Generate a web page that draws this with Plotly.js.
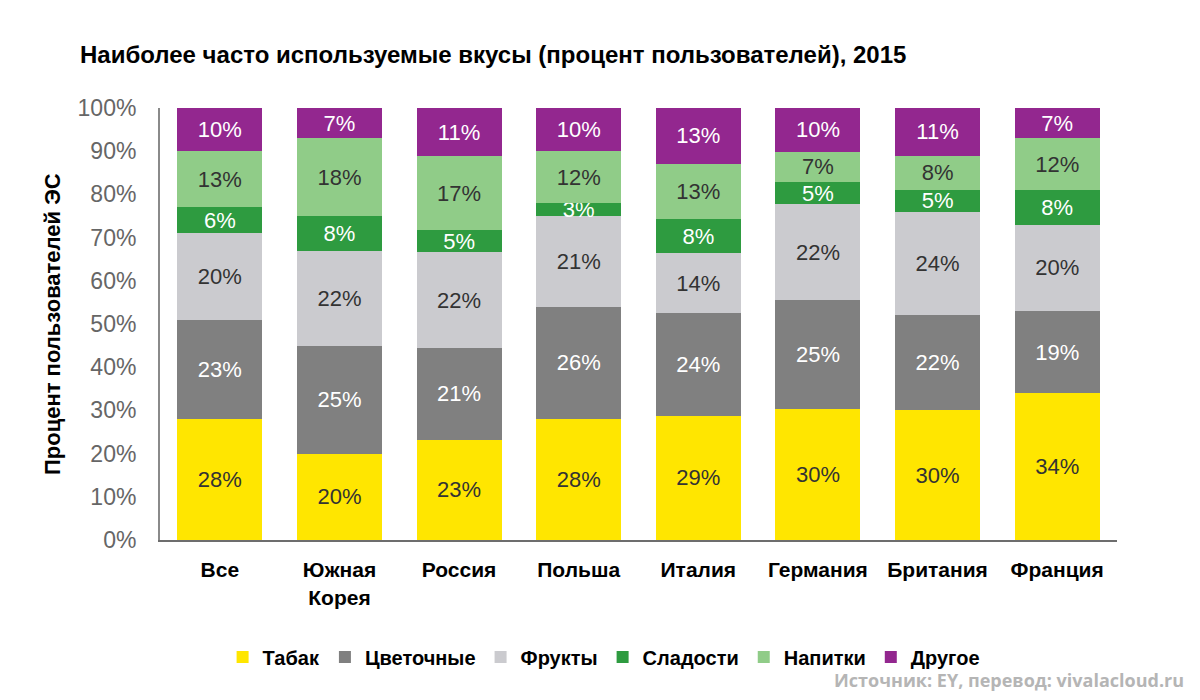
<!DOCTYPE html>
<html><head><meta charset="utf-8">
<script src="https://cdn.plot.ly/plotly-3.0.1.min.js"></script>
<style>html,body{margin:0;padding:0;background:#fff;}#chart{width:1200px;height:700px;}</style>
</head><body><div id="chart"></div>
<script>
const categories = ["Все", "Южная<br>Корея", "Россия", "Польша", "Италия", "Германия", "Британия", "Франция"];
const seriesNames = ["Табак", "Цветочные", "Фрукты", "Сладости", "Напитки", "Другое"];
const tobacco = [28, 20, 23, 28, 29, 30, 30, 34];
const floral  = [23, 25, 21, 26, 24, 25, 22, 19];
const fruit   = [20, 22, 22, 21, 14, 22, 24, 20];
const sweets  = [6, 8, 5, 3, 8, 5, 5, 8];
const drinks  = [13, 18, 17, 12, 13, 7, 8, 12];
const other   = [10, 7, 11, 10, 13, 10, 11, 7];
const yTickVals = [0, 10, 20, 30, 40, 50, 60, 70, 80, 90, 100];
const yTickText = ["0%", "10%", "20%", "30%", "40%", "50%", "60%", "70%", "80%", "90%", "100%"];

const seriesValues = [tobacco, floral, fruit, sweets, drinks, other];
const colors = ["#FFE600", "#808080", "#CBCBCF", "#2E9B40", "#90CC88", "#93278F"];
const textColors = ["#333333", "#ffffff", "#333333", "#ffffff", "#333333", "#ffffff"];
const FONT = "Liberation Sans, Arial, Helvetica, sans-serif";

const traces = seriesValues.map((vals, i) => ({
  type: "bar",
  name: seriesNames[i],
  x: categories,
  y: vals,
  text: vals.map(v => v + "%"),
  texttemplate: "%{text}",
  textposition: "inside",
  insidetextanchor: "middle",
  constraintext: "none",
  textangle: 0,
  textfont: {family: FONT, size: 22, color: textColors[i]},
  marker: {color: colors[i], line: {width: 0}},
  hoverinfo: "skip"
}));

const layout = {
  width: 1200, height: 700,
  paper_bgcolor: "#fff", plot_bgcolor: "#fff",
  margin: {l: 160, r: 83, t: 108, b: 160},
  barmode: "stack",
  barnorm: "percent",
  bargap: 0.29,
  font: {family: FONT},
  title: {
    text: "<b>Наиболее часто используемые вкусы (процент пользователей), 2015</b>",
    font: {family: FONT, size: 24, color: "#000"},
    xref: "container", x: 80/1200, xanchor: "left",
    yref: "container", y: 1 - 55/700, yanchor: "middle"
  },
  xaxis: {
    showgrid: false, zeroline: false,
    showline: true, linecolor: "#6d6d6d", linewidth: 2,
    ticks: "", ticklabelstandoff: 10,
    tickfont: {family: FONT, size: 21, color: "#000", weight: "bold"}
  },
  yaxis: {
    range: [0, 100], autorange: false,
    tickvals: yTickVals, ticktext: yTickText,
    showgrid: false, zeroline: false,
    showline: true, linecolor: "#8a8a8a", linewidth: 2,
    ticks: "", ticklabelstandoff: 17,
    tickfont: {family: FONT, size: 23, color: "#666"}
  },
  showlegend: true,
  legend: {
    orientation: "h",
    xref: "container", x: 0.503, xanchor: "center",
    yref: "container", y: 1 - 657/700, yanchor: "middle",
    font: {family: FONT, size: 20, color: "#000", weight: "bold"},
    itemwidth: 30, tracegroupgap: 0,
    traceorder: "normal"
  },
  annotations: [
    {
      text: "<b>Процент пользователей ЭС</b>",
      textangle: -90,
      xref: "paper", x: (52 - 160)/957, xanchor: "center",
      yref: "paper", y: 0.5, yanchor: "middle",
      showarrow: false,
      font: {family: FONT, size: 22, color: "#000"}
    },
    {
      text: "Источник: EY, перевод: vivalacloud.ru",
      xref: "paper", x: (1186 - 160)/957, xanchor: "right",
      yref: "paper", y: (540 - 680)/432, yanchor: "middle",
      showarrow: false,
      font: {family: "Open Sans, Liberation Sans, sans-serif", size: 18, color: "#b5b5b5", weight: "bold"}
    }
  ]
};

Plotly.newPlot("chart", traces, layout, {displayModeBar: false, staticPlot: true});
</script>
</body></html>
